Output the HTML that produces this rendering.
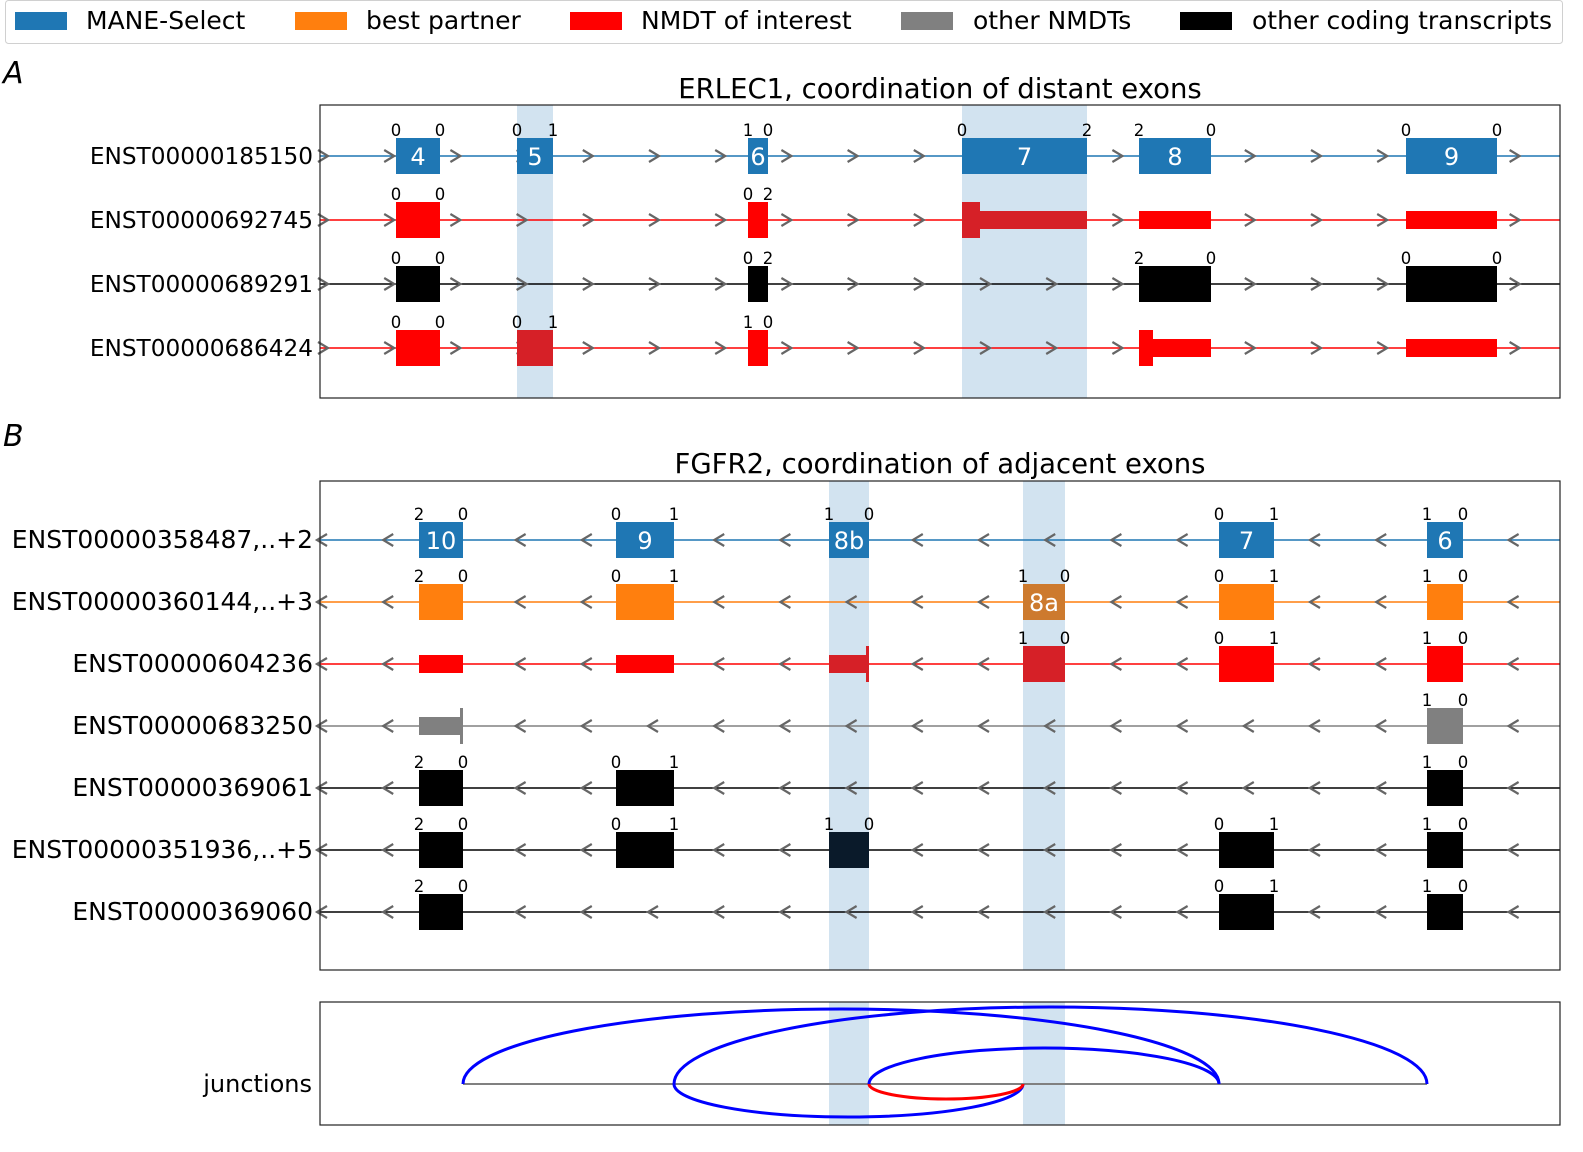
<!DOCTYPE html>
<html><head><meta charset="utf-8"><style>
body{margin:0;background:#fff;font-family:"DejaVu Sans","Liberation Sans",sans-serif;}
svg text{font-family:"DejaVu Sans","Liberation Sans",sans-serif;}
</style></head><body>
<svg id="fig" width="1583" height="1148" viewBox="0 0 1583 1148" xmlns="http://www.w3.org/2000/svg">
<g>
<rect x="5.5" y="0.5" width="1557" height="43" rx="3" fill="#fff" stroke="#d0d0d0"/>
<g><rect x="15" y="12" width="52" height="18" fill="#1f77b4"/><text x="86" y="29" font-size="25">MANE-Select</text></g>
<g><rect x="295" y="12" width="52" height="18" fill="#ff7f0e"/><text x="366" y="29" font-size="25">best partner</text></g>
<g><rect x="570" y="12" width="52" height="18" fill="#ff0000"/><text x="641" y="29" font-size="25">NMDT of interest</text></g>
<g><rect x="901" y="12" width="52" height="18" fill="#808080"/><text x="973" y="29" font-size="25">other NMDTs</text></g>
<g><rect x="1180" y="12" width="52" height="18" fill="#000"/><text x="1252" y="29" font-size="25">other coding transcripts</text></g>
</g>
<text x="3" y="83" font-size="30" font-style="italic">A</text>
<text x="940" y="98" font-size="27.5" text-anchor="middle">ERLEC1, coordination of distant exons</text>
<text x="3" y="446" font-size="30" font-style="italic">B</text>
<text x="940" y="473" font-size="27.5" text-anchor="middle">FGFR2, coordination of adjacent exons</text>
<g id="pa"></g>
<g id="pb"></g>
<g id="pj"></g>
</svg>
<script>
const exonNamesA = ["4","5","6","7","8","9"];
const exonStartA = [76,197,428,642,819,1086];
const exonEndA   = [120,233,448,767,891,1177];
const highlightA = [1,3];
const transcriptsA = ["ENST00000185150","ENST00000692745","ENST00000689291","ENST00000686424"];
const colorsA = ["#1f77b4","#ff0000","#000000","#ff0000"];
const rowsA = [
 [1,1,1,1,1,1],
 [1,0,1,4,2,2],
 [1,0,1,0,1,1],
 [1,3,1,0,5,2]];
const phasesA = [
 [["0","0"],["0","1"],["1","0"],["0","2"],["2","0"],["0","0"]],
 [["0","0"],null,["0","2"],null,null,null],
 [["0","0"],null,["0","2"],null,["2","0"],["0","0"]],
 [["0","0"],["0","1"],["1","0"],null,null,null]];

const exonNamesB = ["10","9","8b","8a","7","6"];
const exonStartB = [99,296,509,703,899,1107];
const exonEndB   = [143,354,549,745,954,1143];
const highlightB = [2,3];
const transcriptsB = ["ENST00000358487,..+2","ENST00000360144,..+3","ENST00000604236","ENST00000683250","ENST00000369061","ENST00000351936,..+5","ENST00000369060"];
const colorsB = ["#1f77b4","#ff7f0e","#ff0000","#808080","#000000","#000000","#000000"];
const rowsB = [
 [1,1,1,0,1,1],
 [1,1,0,7,1,1],
 [2,2,6,3,1,1],
 [6,0,0,0,0,1],
 [1,1,0,0,0,1],
 [1,1,7,0,1,1],
 [1,0,0,0,1,1]];
const phasesB = [
 [["2","0"],["0","1"],["1","0"],null,["0","1"],["1","0"]],
 [["2","0"],["0","1"],null,["1","0"],["0","1"],["1","0"]],
 [null,null,null,["1","0"],["0","1"],["1","0"]],
 [null,null,null,null,null,["1","0"]],
 [["2","0"],["0","1"],null,null,null,["1","0"]],
 [["2","0"],["0","1"],["1","0"],null,["0","1"],["1","0"]],
 [["2","0"],null,null,null,["0","1"],["1","0"]]];
const labelledB = [[1,1,1,0,1,1],[0,0,0,1,0,0]];

const juncFrom = [143,354,549,354,549];
const juncTo   = [899,1107,899,703,703];
const juncSide = [1,1,1,-1,-1];
const juncHeight=[75,77,36,33,15];
const juncColor= ["#0000ff","#0000ff","#0000ff","#0000ff","#ff0000"];

const NS="http://www.w3.org/2000/svg";
const X0=320, X1=1560;
const sx = v => X0 + v*(X1-X0)/1240;
function mk(tag, attrs, parent){const e=document.createElementNS(NS,tag);for(const k in attrs)e.setAttribute(k,attrs[k]);parent.appendChild(e);return e;}
const darker = {"#ff0000":"#d62027","#ff7f0e":"#cd7a2e","#000000":"#0a1a2a","#808080":"#808080","#1f77b4":"#1f77b4"};

function panel(g, top, bottom, rowY0, rowStep, names, starts, ends, hl, tx, cols, rows, phases, dir, labelRow, arrowOff, lblSize){
  const hg=mk('g',{},g);
  
  
  hl.forEach(i=>{const r=mk('rect',{x:sx(starts[i]),y:top,width:sx(ends[i])-sx(starts[i]),height:bottom-top,fill:"#d2e3f0"},hg);
    
    });
  tx.forEach((name,ri)=>{
    const y=rowY0+ri*rowStep; const c=cols[ri];
    const tg=mk('g',{},g);
    
    
    const lb=mk('text',{x:X0-7,y:y+8,"font-size":lblSize,"text-anchor":"end"},tg); lb.textContent=name;
    
    
    mk('line',{x1:X0,x2:X1,y1:y,y2:y,stroke:c,"stroke-width":1.5},tg);
    for(let ax=arrowOff; ax<1245; ax+=66.2){
      const x=sx(ax);
      const d = dir>0 ? `M${x-7},${y-6} L${x+3},${y} L${x-7},${y+6}` : `M${x+7},${y-6} L${x-3},${y} L${x+7},${y+6}`;
      const a=mk('path',{d:d,fill:"none",stroke:"#666","stroke-width":2.2},tg);
      
      
    }
    rows[ri].forEach((t,ei)=>{
      if(!t) return;
      const a=sx(starts[ei]), b=sx(ends[ei]); let fill=c;
      const eg=mk('g',{},tg);
      
      
      if(t===1){mk('rect',{x:a,y:y-18,width:b-a,height:36,fill:c},eg);}
      else if(t===2){mk('rect',{x:a,y:y-9,width:b-a,height:18,fill:c},eg);}
      else if(t===3||t===7){fill=darker[c];mk('rect',{x:a,y:y-18,width:b-a,height:36,fill:fill},eg);}
      else if(t===4){fill=darker[c];mk('rect',{x:a,y:y-18,width:18,height:36,fill:fill},eg);mk('rect',{x:a,y:y-9,width:b-a,height:18,fill:fill},eg);}
      else if(t===5){mk('rect',{x:a,y:y-18,width:14,height:36,fill:c},eg);mk('rect',{x:a,y:y-9,width:b-a,height:18,fill:c},eg);}
      else if(t===6){const f=(c==="#ff0000"&&hl.includes(ei))?darker[c]:c;mk('rect',{x:a,y:y-9,width:b-a-2,height:18,fill:f},eg);mk('rect',{x:b-3,y:y-18,width:3,height:36,fill:f},eg);}
      const ph=phases[ri][ei];
      if(ph){
        const p1=mk('text',{x:a,y:y-20,"font-size":16.5,"text-anchor":"middle"},eg);p1.textContent=ph[0];
        const p2=mk('text',{x:b,y:y-20,"font-size":16.5,"text-anchor":"middle"},eg);p2.textContent=ph[1];
      }
      if(labelRow(ri,ei)){
        const nt=mk('text',{x:(a+b)/2,y:y+9,"font-size":24,"text-anchor":"middle",fill:"#fff"},eg);nt.textContent=names[ei];
        
        
      }
    });
  });
  const fr=mk('rect',{x:X0,y:top,width:X1-X0,height:bottom-top,fill:"none",stroke:"#222","stroke-width":1.2},g);
  
  
}
panel(document.getElementById('pa'),105,398,156,64,exonNamesA,exonStartA,exonEndA,highlightA,transcriptsA,colorsA,rowsA,phasesA,1,(r,e)=>r===0,5,23.2);
panel(document.getElementById('pb'),481,970,540,62,exonNamesB,exonStartB,exonEndB,highlightB,transcriptsB,colorsB,rowsB,phasesB,-1,(r,e)=>labelledB[r]?labelledB[r][e]===1:false,0,25);

const pj=document.getElementById('pj');
const JT=1002,JB=1125,JY=1084;
highlightB.forEach(i=>{const r=mk('rect',{x:sx(exonStartB[i]),y:JT,width:sx(exonEndB[i])-sx(exonStartB[i]),height:JB-JT,fill:"#d2e3f0"},pj);
  
  });
const bl=mk('line',{x1:sx(Math.min(...juncFrom)),x2:sx(Math.max(...juncTo)),y1:JY,y2:JY,stroke:"#808080","stroke-width":2},pj);


juncFrom.forEach((f,i)=>{
  const a=sx(f),b=sx(juncTo[i]);const rx=(b-a)/2, ry=juncHeight[i];
  const p=mk('path',{d:`M${a},${JY} A${rx},${ry} 0 0 ${juncSide[i]>0?1:0} ${b},${JY}`,fill:"none",stroke:juncColor[i],"stroke-width":3},pj);
  
  
});
const jl=mk('text',{x:X0-8,y:JY+8,"font-size":24,"text-anchor":"end"},pj);jl.textContent="junctions";


const jf=mk('rect',{x:X0,y:JT,width:X1-X0,height:JB-JT,fill:"none",stroke:"#222","stroke-width":1.2},pj);


</script>
</body></html>
